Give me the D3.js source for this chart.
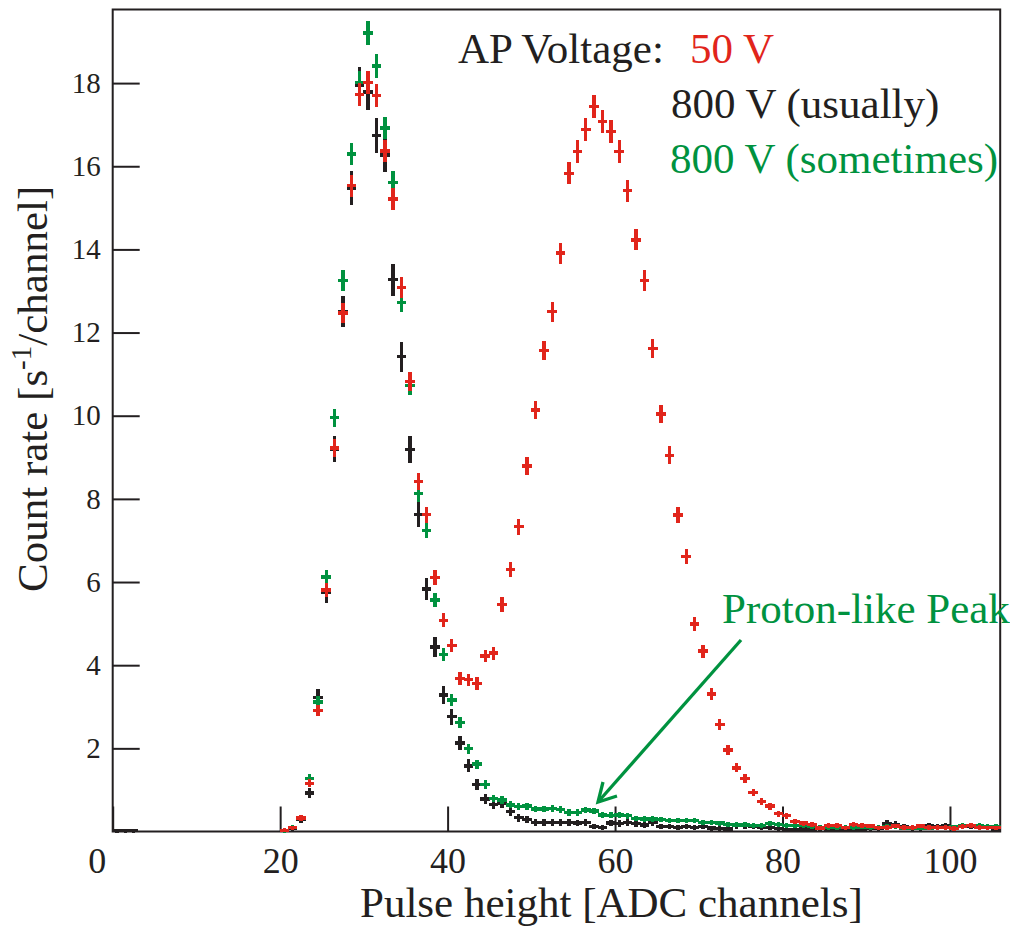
<!DOCTYPE html>
<html><head><meta charset="utf-8">
<script src="https://cdn.jsdelivr.net/npm/d3@7"></script>
<style>body{margin:0;background:#fff}</style>
</head><body>
<svg id="c" width="1010" height="928"></svg>
<script>
// ---- data (bins of width 1 ADC channel) ----
const firstBin = 20; // arrays below start at bin [20,21)
const red50V = [0.03,0.09,0.32,1.16,2.91,5.81,9.22,12.47,15.53,17.72,
  18.01,17.70,16.37,15.21,13.08,10.82,8.42,7.62,6.11,5.08,
  4.47,3.68,3.65,3.56,4.22,4.29,5.46,6.30,7.33,8.79,
  10.14,11.57,12.50,13.91,15.83,16.36,16.88,17.44,17.07,16.83,
  16.36,15.41,14.23,13.25,11.62,10.04,9.05,7.61,6.61,4.99,
  4.34,3.31,2.57,1.96,1.53,1.27,0.94,0.72,0.61,0.43,
  0.38,0.24,0.20,0.17,0.08,0.14,0.14,0.09,0.17,0.14,
  0.13,0.09,0.10,0.13,0.10,0.10,0.13,0.10,0.10,0.10,
  0.07,0.12,0.14,0.10,0.09,0.09];
const black800Usual = [0.02,0.08,0.30,0.93,3.22,5.75,9.20,12.50,15.47,17.95,
  17.79,16.74,16.27,13.27,11.42,9.19,7.63,5.83,4.44,3.28,
  2.76,2.13,1.58,1.13,0.78,0.65,0.68,0.48,0.33,0.29,
  0.21,0.21,0.21,0.22,0.22,0.20,0.21,0.12,0.10,0.20,
  0.19,0.21,0.19,0.16,0.21,0.12,0.12,0.10,0.12,0.09,
  0.12,0.08,0.07,0.06,0.14,0.14,0.12,0.10,0.10,0.07,
  0.05,0.05,0.06,0.05,0.08,0.06,0.05,0.05,0.06,0.05,
  0.08,0.08,0.19,0.17,0.12,0.08,0.07,0.14,0.12,0.14,
  0.10,0.12,0.13,0.12,0.10,0.04];
const blackLowBins = [0.02,0.02,0.02]; // bins 0..2
const green800Sometimes = [0.02,0.10,0.33,1.28,3.11,6.12,9.95,13.25,16.29,18.01,
  19.20,18.41,16.92,15.61,12.73,10.72,8.13,7.24,5.57,4.25,
  3.16,2.62,1.99,1.62,1.13,0.80,0.76,0.64,0.60,0.61,
  0.54,0.54,0.55,0.53,0.46,0.46,0.52,0.49,0.40,0.39,
  0.40,0.38,0.31,0.30,0.30,0.29,0.27,0.27,0.27,0.26,
  0.21,0.21,0.20,0.17,0.16,0.16,0.14,0.15,0.19,0.17,
  0.14,0.14,0.14,0.12,0.10,0.10,0.10,0.10,0.10,0.11,
  0.10,0.10,0.12,0.12,0.08,0.08,0.08,0.08,0.10,0.10,
  0.11,0.14,0.14,0.14,0.12,0.12];
// statistical error scale per series (err = scale * sqrt(count rate))
const errScale = {black: 0.095, green: 0.058, red: 0.058};
const xMajorTicks = [0,20,40,60,80,100];
const xMinorTicks = d3.range(0, 106, 5);
const yMajorTicks = [2,4,6,8,10,12,14,16,18];
const yMinorTicks = d3.range(0.5, 19.6, 0.5);
const legendLines = [
  {text: "AP Voltage:", color: "black"},
  {text: "50 V", color: "red"},
  {text: "800 V (usually)", color: "black"},
  {text: "800 V (sometimes)", color: "green"}
];
const annotation = "Proton-like Peak";

// ---- style ----
const COL = {red: "#e1251b", black: "#231f20", green: "#00923f"};
const FONT = "'Liberation Serif','Times New Roman',Times,serif";

const svg = d3.select("#c");
const x = d3.scaleLinear().domain([0, 106]).range([112.7, 1000.2]);
const y = d3.scaleLinear().domain([0, 19.77]).range([831.5, 9.5]);

// frame
svg.append("rect").attr("x", x(0)).attr("y", y(19.77))
  .attr("width", x(106) - x(0)).attr("height", y(0) - y(19.77))
  .attr("fill", "none").attr("stroke", COL.black).attr("stroke-width", 2);

// axes
const gx = svg.append("g").attr("transform", `translate(0,${y(0)})`);
gx.call(d3.axisBottom(x).tickValues(xMinorTicks).tickSize(-12.5).tickFormat(""));
gx.call(d3.axisBottom(x).tickValues(xMajorTicks).tickSize(-25).tickPadding(16).tickFormat(d3.format("d")));
gx.selectAll(".domain").remove();
gx.selectAll("line").attr("stroke", COL.black).attr("stroke-width", 2);
gx.selectAll("text").attr("font-family", FONT).attr("font-size", 36).attr("fill", COL.black)
  .attr("dy", "0.71em");
gx.selectAll(".tick").filter(d => d === 0).select("text").attr("x", -16);

const gy = svg.append("g").attr("transform", `translate(${x(0)},0)`);
gy.call(d3.axisLeft(y).tickValues(yMinorTicks).tickSize(-14).tickFormat(""));
gy.call(d3.axisLeft(y).tickValues(yMajorTicks).tickSize(-27).tickPadding(12).tickFormat(d3.format("d")));
gy.selectAll(".domain").remove();
gy.selectAll("line").attr("stroke", COL.black).attr("stroke-width", 2);
gy.selectAll("text").attr("font-family", FONT).attr("font-size", 29).attr("fill", COL.black);

// histograms with error bars
function series(vals, start, color, k) {
  const pts = vals.map((v, i) => ({b: start + i, v})).filter(d => d.v > 0);
  const g = svg.append("g").attr("stroke", COL[color]).attr("stroke-width", 3.4)
    .attr("shape-rendering", "crispEdges");
  g.selectAll("line.h").data(pts).join("line").attr("class", "h")
    .attr("x1", d => x(d.b) - 0.6).attr("x2", d => x(d.b + 1) + 0.6)
    .attr("y1", d => y(d.v)).attr("y2", d => y(d.v));
  g.selectAll("line.v").data(pts).join("line").attr("class", "v")
    .attr("x1", d => x(d.b + 0.5)).attr("x2", d => x(d.b + 0.5))
    .attr("y1", d => y(d.v - k * Math.sqrt(d.v)) + 1.5)
    .attr("y2", d => y(d.v + k * Math.sqrt(d.v)) - 1.5);
}
series(blackLowBins, 0, "black", errScale.black);
series(black800Usual, firstBin, "black", errScale.black);
series(green800Sometimes, firstBin, "green", errScale.green);
series(red50V, firstBin, "red", errScale.red);

// axis titles
svg.append("text").attr("x", 360).attr("y", 917).attr("font-family", FONT)
  .attr("font-size", 43).attr("fill", COL.black).text("Pulse height [ADC channels]");
const yt = svg.append("text").attr("transform", "translate(47,592) rotate(-90)")
  .attr("font-family", FONT).attr("font-size", 43).attr("fill", COL.black);
yt.append("tspan").text("Count rate [s");
yt.append("tspan").attr("font-size", 29).attr("dy", -16).text("-1");
yt.append("tspan").attr("dy", 16).text("/channel]");

// legend text
const legPos = [[458, 63], [690, 63], [671, 118], [670, 173]];
svg.selectAll("text.leg").data(legendLines).join("text").attr("class", "leg")
  .attr("x", (d, i) => legPos[i][0]).attr("y", (d, i) => legPos[i][1])
  .attr("font-family", FONT).attr("font-size", 43).attr("fill", d => COL[d.color])
  .text(d => d.text);

// annotation + arrow
svg.append("text").attr("x", 722).attr("y", 623).attr("font-family", FONT)
  .attr("font-size", 43).attr("fill", COL.green).text(annotation);
const ar = svg.append("g").attr("stroke", COL.green).attr("stroke-width", 3.3).attr("fill", "none");
ar.append("line").attr("x1", 741).attr("y1", 640).attr("x2", 598).attr("y2", 802);
ar.append("polyline").attr("points", "603,782 598,802 617,796");
</script>
</body></html>
